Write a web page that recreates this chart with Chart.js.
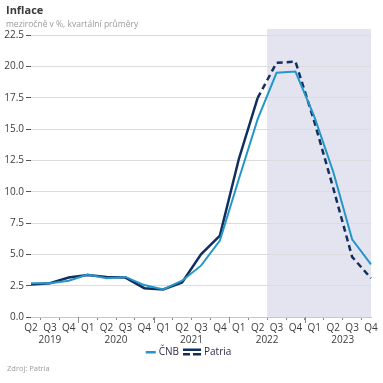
<!DOCTYPE html>
<html>
<head>
<meta charset="utf-8">
<script src="https://cdn.jsdelivr.net/npm/chart.js@4"></script>
<style>
  html, body { margin: 0; padding: 0; background: #fff; }
  #wrap { position: relative; width: 383px; height: 383px; font-family: "Open Sans", sans-serif; }
  #chart { position: absolute; left: 0; top: 0; }
  .txt { position: absolute; white-space: nowrap; }
  #title { left: 6px; top: 2px; font-size: 11px; font-weight: bold; color: #3a3a3a; }
  #subtitle { left: 6px; top: 18px; font-size: 8.5px; color: #9a9a9a; }
  #source { left: 7px; top: 363px; font-size: 7.5px; color: #9a9a9a; }
</style>
</head>
<body>
<div id="wrap">
  <canvas id="chart" width="383" height="383"></canvas>
  <div class="txt" id="title">Inflace</div>
  <div class="txt" id="subtitle">meziročně v %, kvartální průměry</div>
  <div class="txt" id="source">Zdroj: Patria</div>
</div>
<script>
// čtvrtletí a roky
const quarters = ["Q2", "Q3", "Q4", "Q1", "Q2", "Q3", "Q4", "Q1", "Q2", "Q3", "Q4", "Q1", "Q2", "Q3", "Q4", "Q1", "Q2", "Q3", "Q4"];
const years = ["2019", "2019", "2019", "2020", "2020", "2020", "2020", "2021", "2021", "2021", "2021", "2022", "2022", "2022", "2022", "2023", "2023", "2023", "2023"];

// inflace v %
const cnbValues = [2.7, 2.7, 2.9, 3.4, 3.1, 3.2, 2.55, 2.2, 2.9, 4.1, 6.1, 11.0, 15.8, 19.5, 19.6, 16.0, 11.6, 6.2, 4.2];
const patriaValues = [2.6, 2.7, 3.15, 3.35, 3.2, 3.15, 2.3, 2.2, 2.75, 5.0, 6.5, 12.6, 17.5, 20.3, 20.4, 15.6, 10.3, 4.8, 3.1];

// popisky osy y
const yTickValues = [0, 2.5, 5, 7.5, 10, 12.5, 15, 17.5, 20, 22.5];

// od kterého bodu je Patria prognóza (čárkovaně) a od kterého je podbarvení
const forecastFrom = 12;
const shadeFrom = 13;

const cnbColor = "#2596c8";
const patriaColor = "#112f5e";
const tickTextColor = "#3c3c3c";

// ikony do legendy
function legendIcon(kind) {
    const c = document.createElement("canvas");
    c.width = 22; c.height = 10;
    const g = c.getContext("2d");
    if (kind === "cnb") {
        g.fillStyle = cnbColor;
        g.fillRect(10, 4, 10, 2.5);
    } else {
        g.fillStyle = patriaColor;
        g.fillRect(2, 1.5, 18, 2.5);
        g.fillRect(2, 6, 7, 2.5);
        g.fillRect(12, 6, 8, 2.5);
    }
    return c;
}
const icons = { "ČNB": legendIcon("cnb"), "Patria": legendIcon("patria") };

// podbarvení prognózy
const shadePlugin = {
    id: "shade",
    beforeDraw(chart) {
        const x = chart.scales.x;
        const area = chart.chartArea;
        const left = (x.getPixelForValue(shadeFrom - 1) + x.getPixelForValue(shadeFrom)) / 2;
        const ctx = chart.ctx;
        ctx.save();
        ctx.fillStyle = "#e4e4f0";
        ctx.fillRect(left, area.top, area.right - left, area.bottom - area.top);
        ctx.restore();
    }
};

// roky pod čtvrtletími a delší čárky mezi roky
const yearPlugin = {
    id: "years",
    afterDraw(chart) {
        const x = chart.scales.x;
        const ctx = chart.ctx;
        const bottom = chart.chartArea.bottom;
        ctx.save();
        ctx.font = "10px 'Open Sans'";
        ctx.fillStyle = tickTextColor;
        ctx.textAlign = "center";
        ctx.textBaseline = "middle";
        let start = 0;
        for (let i = 1; i <= years.length; i++) {
            if (i === years.length || years[i] !== years[start]) {
                const mid = (x.getPixelForValue(start) + x.getPixelForValue(i - 1)) / 2;
                ctx.fillText(years[start], mid, bottom + 23);
                if (i < years.length) {
                    const bx = Math.round((x.getPixelForValue(i - 1) + x.getPixelForValue(i)) / 2) + 0.5;
                    ctx.strokeStyle = "#8a8a8a";
                    ctx.lineWidth = 1;
                    ctx.beginPath();
                    ctx.moveTo(bx, bottom);
                    ctx.lineTo(bx, bottom + 6);
                    ctx.stroke();
                }
                start = i;
            }
        }
        ctx.restore();
    }
};

new Chart(document.getElementById("chart"), {
    type: "line",
    data: {
        labels: quarters,
        datasets: [
            {
                label: "ČNB",
                data: cnbValues,
                borderColor: cnbColor,
                borderWidth: 2,
                pointRadius: 0,
                tension: 0,
                fill: false
            },
            {
                label: "Patria",
                data: patriaValues,
                borderColor: patriaColor,
                borderWidth: 2.5,
                pointRadius: 0,
                tension: 0,
                fill: false,
                segment: {
                    borderDash: ctx => ctx.p0DataIndex >= forecastFrom ? [6, 4] : undefined
                }
            }
        ]
    },
    options: {
        responsive: false,
        animation: false,
        layout: { padding: { left: 0, right: 12, top: 29, bottom: 16 } },
        plugins: {
            title: { display: false },
            tooltip: { enabled: false },
            legend: {
                position: "bottom",
                labels: {
                    usePointStyle: true,
                    pointStyleWidth: 14,
                    padding: 6,
                    color: "#2e2e48",
                    font: { family: "'Open Sans'", size: 10 },
                    generateLabels(chart) {
                        const items = Chart.defaults.plugins.legend.labels.generateLabels(chart);
                        items.forEach(it => { it.pointStyle = icons[it.text]; });
                        return items;
                    }
                }
            }
        },
        scales: {
            x: {
                grid: {
                    offset: true,
                    drawOnChartArea: false,
                    tickLength: 3,
                    tickColor: "#8a8a8a"
                },
                border: { display: true, color: "#c8c8c8" },
                ticks: {
                    color: tickTextColor,
                    padding: 2,
                    maxRotation: 0,
                    autoSkip: false,
                    font: { family: "'Open Sans'", size: 10 }
                },
                afterFit(scale) { scale.height = 24; }
            },
            y: {
                min: 0,
                max: 23,
                grid: {
                    color: "#dcdcdc",
                    tickColor: "#555",
                    tickLength: 5
                },
                border: { display: false },
                ticks: {
                    padding: 2,
                    color: tickTextColor,
                    font: { family: "'Open Sans'", size: 10 },
                    callback: v => v.toFixed(1)
                },
                afterBuildTicks(scale) {
                    scale.ticks = yTickValues.map(v => ({ value: v }));
                },
                afterFit(scale) { scale.width = 31; }
            }
        }
    },
    plugins: [shadePlugin, yearPlugin]
});
</script>
</body>
</html>
